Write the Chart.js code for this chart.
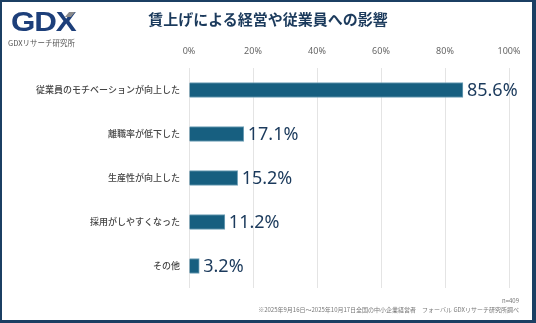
<!DOCTYPE html>
<html>
<head>
<meta charset="utf-8">
<script src="https://cdn.jsdelivr.net/npm/chart.js@4"></script>
<style>
  html, body { margin: 0; padding: 0; background: #fff; }
  #wrap { position: relative; width: 536px; height: 323px; overflow: hidden; }
  #frame { position: absolute; left: 0; top: 0; width: 536px; height: 323px; box-sizing: border-box;
    border-style: solid; border-color: #1b3f63; border-width: 2px 4px 3px 2px; pointer-events: none; }
  canvas { position: absolute; left: 0; top: 0; }
  .txt { position: absolute; font-family: "Noto Sans CJK JP", "Noto Sans", sans-serif; white-space: nowrap; }
  #title { left: 0; width: 536px; top: 9px; text-align: center; font-size: 15px; font-weight: bold; color: #1b3a5c; line-height: 20px; }
  #logo { left: 11px; top: 8px; font-family: "Liberation Sans", Arial, sans-serif; font-weight: bold; font-size: 28px; color: #1d3f7a; letter-spacing: -1px; line-height: 28px; transform: scaleX(1.12); transform-origin: left; }
  #slash { position: absolute; left: 67px; top: 12px; width: 6px; height: 5px; background: #8a8a8a; transform: skewX(-40deg); }
  #logosub { left: 8px; top: 38px; font-size: 7.5px; color: #555; line-height: 10px; }
  #n { right: 17px; top: 297px; font-size: 6px; color: #777; line-height: 8px; }
  #note { right: 17px; top: 306px; font-size: 6px; color: #777; line-height: 8px; }
</style>
</head>
<body>
<div id="wrap">
  <canvas id="chart" width="536" height="323"></canvas>
  <div class="txt" id="logo">GDX</div>
  <div id="slash"></div>
  <div class="txt" id="logosub">GDXリサーチ研究所</div>
  <div class="txt" id="title">賃上げによる経営や従業員への影響</div>
  <div class="txt" id="n">n=409</div>
  <div class="txt" id="note">※2025年9月16日～2025年10月17日全国の中小企業経営者　フォーバル GDXリサーチ研究所調べ</div>
  <div id="frame"></div>
</div>
<script>
// 項目と回答率
const categories = ['従業員のモチベーションが向上した', '離職率が低下した', '生産性が向上した', '採用がしやすくなった', 'その他'];
const values = [85.6, 17.1, 15.2, 11.2, 3.2];
const tickValues = [0, 20, 40, 60, 80, 100];

// 棒の右側に数値を描く
const valueLabels = {
    id: 'valueLabels',
    afterDatasetsDraw(chart) {
        const ctx = chart.ctx;
        const meta = chart.getDatasetMeta(0);
        ctx.save();
        ctx.font = '18px "Noto Sans", sans-serif';
        ctx.fillStyle = '#1b3a5c';
        ctx.textAlign = 'left';
        ctx.textBaseline = 'middle';
        meta.data.forEach((bar, i) => {
            ctx.fillText(values[i].toFixed(1) + '%', bar.x + 4, bar.y + 1);
        });
        ctx.restore();
    }
};

new Chart(document.getElementById('chart'), {
    type: 'bar',
    data: {
        labels: categories,
        datasets: [{
            data: values,
            backgroundColor: '#175f80',
            borderColor: '#6f9fb6',
            borderWidth: 1,
            barThickness: 15
        }]
    },
    options: {
        indexAxis: 'y',
        responsive: false,
        animation: false,
        layout: { padding: { left: 0, right: 27, top: 0, bottom: 35 } },
        plugins: { legend: { display: false }, tooltip: { enabled: false } },
        scales: {
            x: {
                position: 'top',
                min: 0,
                max: 100,
                afterBuildTicks: scale => { scale.ticks = tickValues.map(v => ({ value: v })); },
                afterFit: scale => { scale.height = 68; },
                grid: { color: '#e4e4e4', drawTicks: false },
                border: { display: false },
                ticks: {
                    padding: 11,
                    color: '#666',
                    font: { family: '"Noto Sans", sans-serif', size: 9 },
                    callback: v => v + '%'
                }
            },
            y: {
                afterFit: scale => { scale.width = 189; },
                grid: { display: false, drawTicks: false },
                border: { display: false },
                ticks: {
                    padding: 9,
                    color: '#444',
                    font: { family: '"Noto Sans CJK JP", sans-serif', size: 9, weight: '500' }
                }
            }
        }
    },
    plugins: [valueLabels]
});
</script>
</body>
</html>
